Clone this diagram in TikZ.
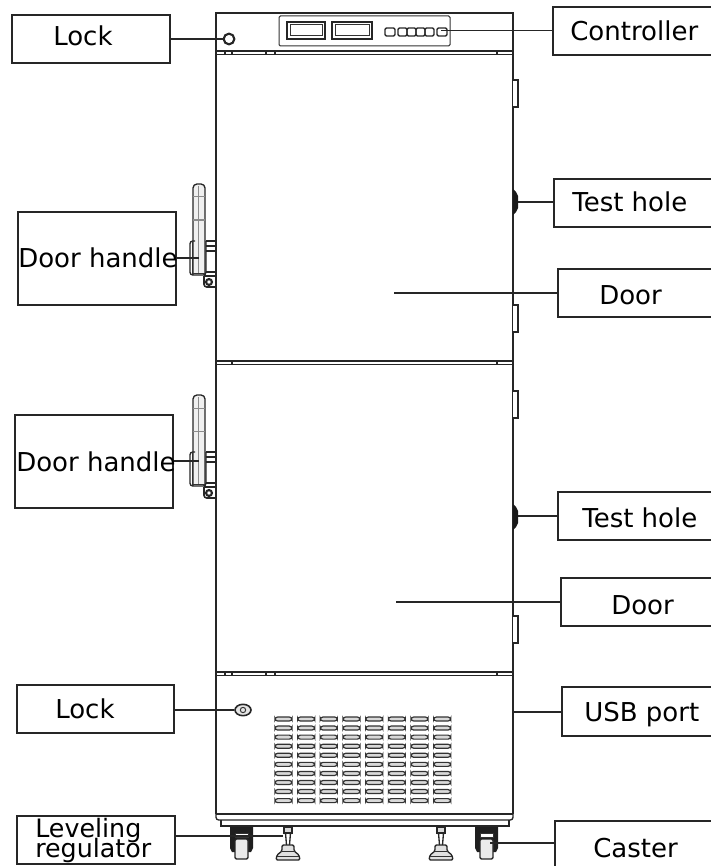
\documentclass[tikz,border=0pt]{standalone}
\usetikzlibrary{shapes.geometric}
\usepackage{fontspec}
\setmainfont{DejaVu Sans}
\tikzset{
  labelbox/.style={draw=black!85,line width=1.1pt,inner sep=0pt},
  labeltext/.style={font=\fontsize{19.5}{19.5}\selectfont,text=black,inner sep=0pt,anchor=base west},
  leader/.style={draw=black!85,line width=1pt},
  body/.style={draw=black!85,line width=1pt},
  thin part/.style={draw=black!80,line width=.75pt},
  vent/.style={draw=black!80,fill=black!15,line width=.9pt,rounded corners=2pt}
}
\begin{document}
\begin{tikzpicture}[x=.75pt,y=-.75pt]
\useasboundingbox (0,0) rectangle (710,866);
% cabinet
\draw[body] (216,814)--(216,13)--(513,13)--(513,814);
\draw[body,rounded corners=2pt] (216,812)--(216,820)--(513,820)--(513,812);
\draw[body] (216,814)--(513,814);
\draw[body] (221,820)--(221,826)--(509,826)--(509,820);
\foreach \y in {51,361,672}{
  \draw[body] (216,\y)--(513,\y);
  \draw[body] (216,\y+3.5)--(513,\y+3.5);
  \draw[body] (232,\y)--(232,\y+3.5) (497,\y)--(497,\y+3.5);
}
\foreach \y in {51,672}
  \draw[body] (225,\y)--(225,\y+3.5) (266,\y)--(266,\y+3.5) (275,\y)--(275,\y+3.5);
% controller
\draw[thin part,rounded corners=1pt] (279,16) rectangle (450,46);
\foreach \x/\w in {287/38,332/40}{
  \draw[body,line width=1.2pt] (\x,22) rectangle ++(\w,17);
  \draw[thin part] (\x+3,25) rectangle ++(\w-6,11);
}
\foreach \x/\w in {385/10,398/9,407/9,416/9,425/9,437/10}
  \draw[body,rounded corners=1pt] (\x,28) rectangle ++(\w,8);
\node[draw=black!85,line width=1.6pt,circle,minimum size=8pt,inner sep=0pt] (toplock) at (229,39) {};
\coordinate (ctrlbutton) at (441,30.5);
% hinges and test holes
\foreach \y in {0,311}{
  \draw[body,fill=white,line width=1.3pt] (513,80+\y)--(518,80+\y)--(518,107+\y)--(513,107+\y);
  \draw[body,fill=white,line width=1.3pt] (513,305+\y)--(518,305+\y)--(518,332+\y)--(513,332+\y);
}
\foreach \y in {202,517}
  \fill[black!90] (513,\y-13)--(516,\y-10)--(518,\y-6)--(518,\y+6)--(516,\y+10)--(513,\y+13)--cycle;
\coordinate (testa) at (518,202);
\coordinate (testb) at (518,516);
\coordinate (doora) at (394,293);
\coordinate (doorb) at (396,602);
% door handles
\foreach \y in {0,211}{
  \draw[body,rounded corners=3pt,fill=black!6] (193,275+\y)--(193,184+\y)--(205,184+\y)--(205,275+\y);
  \draw[thin part,draw=black!45] (193,197+\y)--(205,197+\y) (193,220+\y)--(205,220+\y) (198,186+\y)--(198,273+\y);
  \draw[body,rounded corners=2pt] (195,241+\y)--(190,241+\y)--(190,275+\y)--(206,275+\y)--(206,241+\y);
  \draw[thin part] (192,241+\y)--(192,273+\y)--(205,273+\y);
  \draw[body] (206,241+\y)--(216,241+\y) (206,246+\y)--(216,246+\y) (206,251+\y)--(216,251+\y) (206,272+\y)--(216,272+\y);
  \draw[body,line width=1.2pt,rounded corners=2pt] (204,276+\y)--(204,287+\y)--(215,287+\y);
  \draw[body] (204,276+\y)--(216,276+\y);
  \draw[black!85,line width=1.6pt] (209,282+\y) circle (2.2pt);
}
\coordinate (handlea) at (199,258);
\coordinate (handleb) at (199,461);
% lower panel
\node[draw=black!85,fill=black!10,line width=1.2pt,ellipse,minimum width=12pt,minimum height=8.5pt,inner sep=0pt] (lowlock) at (243,710) {};
\draw[thin part] (243,710) circle (2pt);
\coordinate (usb) at (513,712);
\foreach \x in {0,...,7}
  \foreach \y in {0,...,9}
    \draw[vent] (275+22.67*\x,717+9.07*\y) rectangle ++(17,4);
% casters
\foreach \x in {230,475}{
  \fill[black!88] (\x,827)--(\x+23,827)--(\x+23,848)--(\x+21,852)--(\x+2,852)--(\x,848)--cycle;
  \draw[thin part,fill=white] (\x+5,833) rectangle ++(13,4);
  \draw[body,fill=black!8,rounded corners=1pt] (\x+5,839) rectangle ++(13,20);
}
% leveling feet
\foreach \x in {288,441}{
  \draw[body,fill=black!15] (\x-4,827) rectangle (\x+4,833);
  \draw[body] (\x-2.5,833)--(\x-1.5,845) (\x+2.5,833)--(\x+1.5,845);
  \draw[body,fill=black!12,rounded corners=1pt] (\x-6,845)--(\x+6,845)--(\x+6,851)--(\x+11,855)--(\x+12,860)--(\x-12,860)--(\x-11,855)--(\x-6,851)--cycle;
  \draw[thin part] (\x-6,851)--(\x+6,851) (\x-11,856)--(\x+11,856);
}
\coordinate (regulator) at (283,836);
\coordinate (caster) at (490,843);
% labels
\node[labelbox,minimum width=118.5pt,minimum height=36pt] (lockabox) at (91,39) {};
\node[labeltext] (lockatext) at (53,46) {Lock};
\node[labelbox,minimum width=125.25pt,minimum height=36pt] (ctrlbox) at (636.5,31) {};
\node[labeltext] (ctrltext) at (570,41) {Controller};
\node[labelbox,minimum width=124.5pt,minimum height=36pt] (testabox) at (637,203) {};
\node[labeltext] (testatext) at (572,211) {Test hole};
\node[labelbox,minimum width=121.5pt,minimum height=36pt] (dooranode) at (639,293) {};
\node[labeltext] (dooratext) at (599,304) {Door};
\node[labelbox,minimum width=118.5pt,minimum height=69.75pt] (handleabox) at (97,258.5) {};
\node[labeltext] (handleatext) at (18,267) {Door handle};
\node[labelbox,minimum width=118.5pt,minimum height=69.75pt] (handlebbox) at (94,461.5) {};
\node[labeltext] (handlebtext) at (16,471) {Door handle};
\node[labelbox,minimum width=121.5pt,minimum height=36pt] (testbbox) at (639,516) {};
\node[labeltext] (testbtext) at (582,527) {Test hole};
\node[labelbox,minimum width=119.25pt,minimum height=36pt] (doorbnode) at (640.5,602) {};
\node[labeltext] (doorbtext) at (611,614) {Door};
\node[labelbox,minimum width=117.75pt,minimum height=36pt] (lockbbox) at (95.5,709) {};
\node[labeltext] (lockbtext) at (55,718) {Lock};
\node[labelbox,minimum width=118.5pt,minimum height=36.75pt] (usbbox) at (641,711.5) {};
\node[labeltext] (usbtext) at (584,721) {USB port};
\node[labelbox,minimum width=118.5pt,minimum height=36pt] (regbox) at (96,840) {};
\node[labeltext,font=\fontsize{19}{19}\selectfont] (regtexta) at (35,837) {Leveling};
\node[labeltext,font=\fontsize{19}{19}\selectfont] (regtextb) at (35,857) {regulator};
\node[labelbox,minimum width=123.75pt,minimum height=44.25pt] (casterbox) at (637.5,850.5) {};
\node[labeltext] (castertext) at (593,857) {Caster};
% connectors
\draw[leader] (lockabox.east |- toplock) -- (toplock);
\draw[leader] (ctrlbutton) -- (ctrlbutton -| ctrlbox.west);
\draw[leader] (testa) -- (testa -| testabox.west);
\draw[leader] (doora) -- (doora -| dooranode.west);
\draw[leader] (handlea -| handleabox.east) -- (handlea);
\draw[leader] (handleb -| handlebbox.east) -- (handleb);
\draw[leader] (testb) -- (testb -| testbbox.west);
\draw[leader] (doorb) -- (doorb -| doorbnode.west);
\draw[leader] (lockbbox.east |- lowlock) -- (lowlock);
\draw[leader] (usb) -- (usb -| usbbox.west);
\draw[leader] (regulator -| regbox.east) -- (regulator);
\draw[leader] (caster) -- (caster -| casterbox.west);
\end{tikzpicture}
\end{document}
